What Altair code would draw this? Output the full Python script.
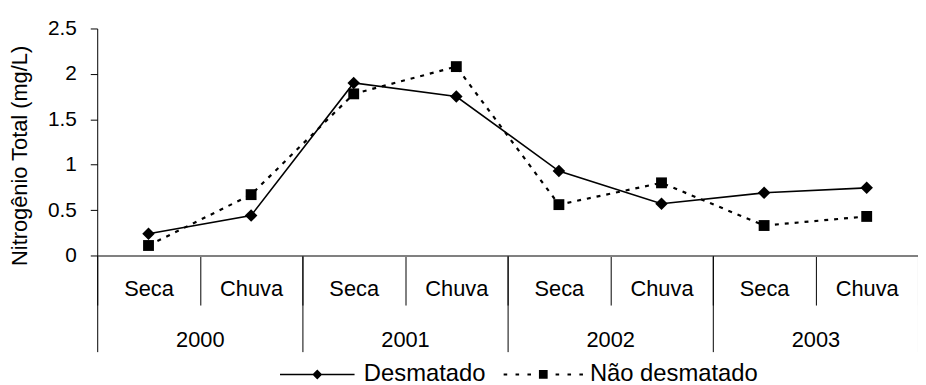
import altair as alt
import pandas as pd

anos = ["2000", "2001", "2002", "2003"]
estacoes = ["Seca", "Chuva"]
series = ["Desmatado", "Não desmatado"]
desmatado = [0.24, 0.44, 1.90, 1.75, 0.93, 0.57, 0.69, 0.745]
nao_desmatado = [0.11, 0.67, 1.78, 2.08, 0.56, 0.80, 0.33, 0.43]
y_ticks = [0, 0.5, 1, 1.5, 2, 2.5]

periodos = [f"{a}|{e}" for a in anos for e in estacoes]
rows = []
for serie, vals in zip(series, [desmatado, nao_desmatado]):
    for p, v in zip(periodos, vals):
        rows.append({"serie": serie, "periodo": p, "ano": p.split("|")[0], "valor": v})
df = pd.DataFrame(rows)

FONT = "Liberation Sans"

x_periodo = alt.X(
    "periodo:N",
    sort=periodos,
    scale=alt.Scale(type="band", domain=periodos, paddingInner=0, paddingOuter=0),
    axis=alt.Axis(
        title=None, orient="bottom", labelExpr="split(datum.label, '|')[1]",
        tickBand="extent", tickSize=50, tickColor="black", tickWidth=1,
        domainColor="#808080", domainWidth=2, labelPadding=-17, labelBaseline="middle",
        labelFontSize=22, labelFont=FONT, labelColor="black", labelFontWeight="normal",
        labelAngle=0, labelOverlap=False,
    ),
)
y_valor = alt.Y(
    "valor:Q",
    scale=alt.Scale(domain=[0, 2.5], nice=False, zero=True),
    axis=alt.Axis(
        title="Nitrogênio Total (mg/L)", values=y_ticks, format="~g", grid=False,
        domainColor="black", domainWidth=1, tickColor="black", tickSize=7, tickWidth=1,
        labelPadding=14, labelFontSize=21, labelFont=FONT, labelColor="black",
        titleFontSize=22, titleFont=FONT, titleFontWeight="normal", titleColor="black",
        titlePadding=16, titleY=128,
    ),
)

base = alt.Chart(df)

line_d = base.transform_filter(alt.datum.serie == series[0]).mark_line(
    color="black", strokeWidth=1.6).encode(x=x_periodo, y=y_valor)
line_n = base.transform_filter(alt.datum.serie == series[1]).mark_line(
    color="black", strokeWidth=2.2, strokeDash=[4, 6]).encode(x=x_periodo, y=y_valor)
pts_d = base.transform_filter(alt.datum.serie == series[0]).mark_point(
    shape="diamond", filled=True, color="black", opacity=1, size=160).encode(x=x_periodo, y=y_valor)
pts_n = base.transform_filter(alt.datum.serie == series[1]).mark_point(
    shape="square", filled=True, color="black", opacity=1, size=120).encode(x=x_periodo, y=y_valor)

dados = alt.layer(line_d, line_n, pts_d, pts_n)

anos_layer = base.mark_point(opacity=0).encode(
    x=alt.X(
        "ano:N",
        scale=alt.Scale(type="band", domain=anos, paddingInner=0, paddingOuter=0),
        axis=alt.Axis(
            title=None, orient="bottom", tickBand="extent", tickSize=97, tickColor="black",
            tickWidth=1, domain=False, labelPadding=-12, labelBaseline="middle",
            labelFontSize=22, labelFont=FONT, labelColor="black", labelFontWeight="normal",
            labelAngle=0, labelOverlap=False,
        ),
    )
)

# legend symbols drawn as filled shapes (unit box -1..1)
sym_d = ("M-0.94,-0.02H0.94V0.02H-0.94Z"
         "M-0.125,0L0,-0.125L0.125,0L0,0.125Z")
sym_n = ("M-1,-0.025H-0.91V0.025H-1Z"
         "M-0.7,-0.025H-0.61V0.025H-0.7Z"
         "M-0.4,-0.025H-0.31V0.025H-0.4Z"
         "M0.31,-0.025H0.4V0.025H0.31Z"
         "M0.61,-0.025H0.7V0.025H0.61Z"
         "M0.91,-0.025H1V0.025H0.91Z"
         "M-0.11,-0.11H0.11V0.11H-0.11Z")

legend_layer = base.transform_filter("false").mark_point(
    filled=True, color="black", opacity=1
).encode(
    shape=alt.Shape(
        "serie:N",
        scale=alt.Scale(domain=series, range=[sym_d, sym_n]),
        legend=alt.Legend(
            title=None, orient="none", legendX=181, legendY=308, direction="horizontal",
            symbolSize=6400, labelFontSize=24, labelFont=FONT, labelColor="black",
            labelOffset=6, columnPadding=15, labelLimit=400, padding=0,
            symbolFillColor="black", symbolOpacity=1,
        ),
    )
)

chart = alt.layer(dados, anos_layer, legend_layer).resolve_scale(
    x="independent"
).properties(
    width=828, height=229, autosize="none",
    padding={"left": 90, "top": 19, "right": 0, "bottom": 129},
).configure_view(stroke=None)

chart.save("out.html", embed_options={"renderer": "svg", "actions": False})
